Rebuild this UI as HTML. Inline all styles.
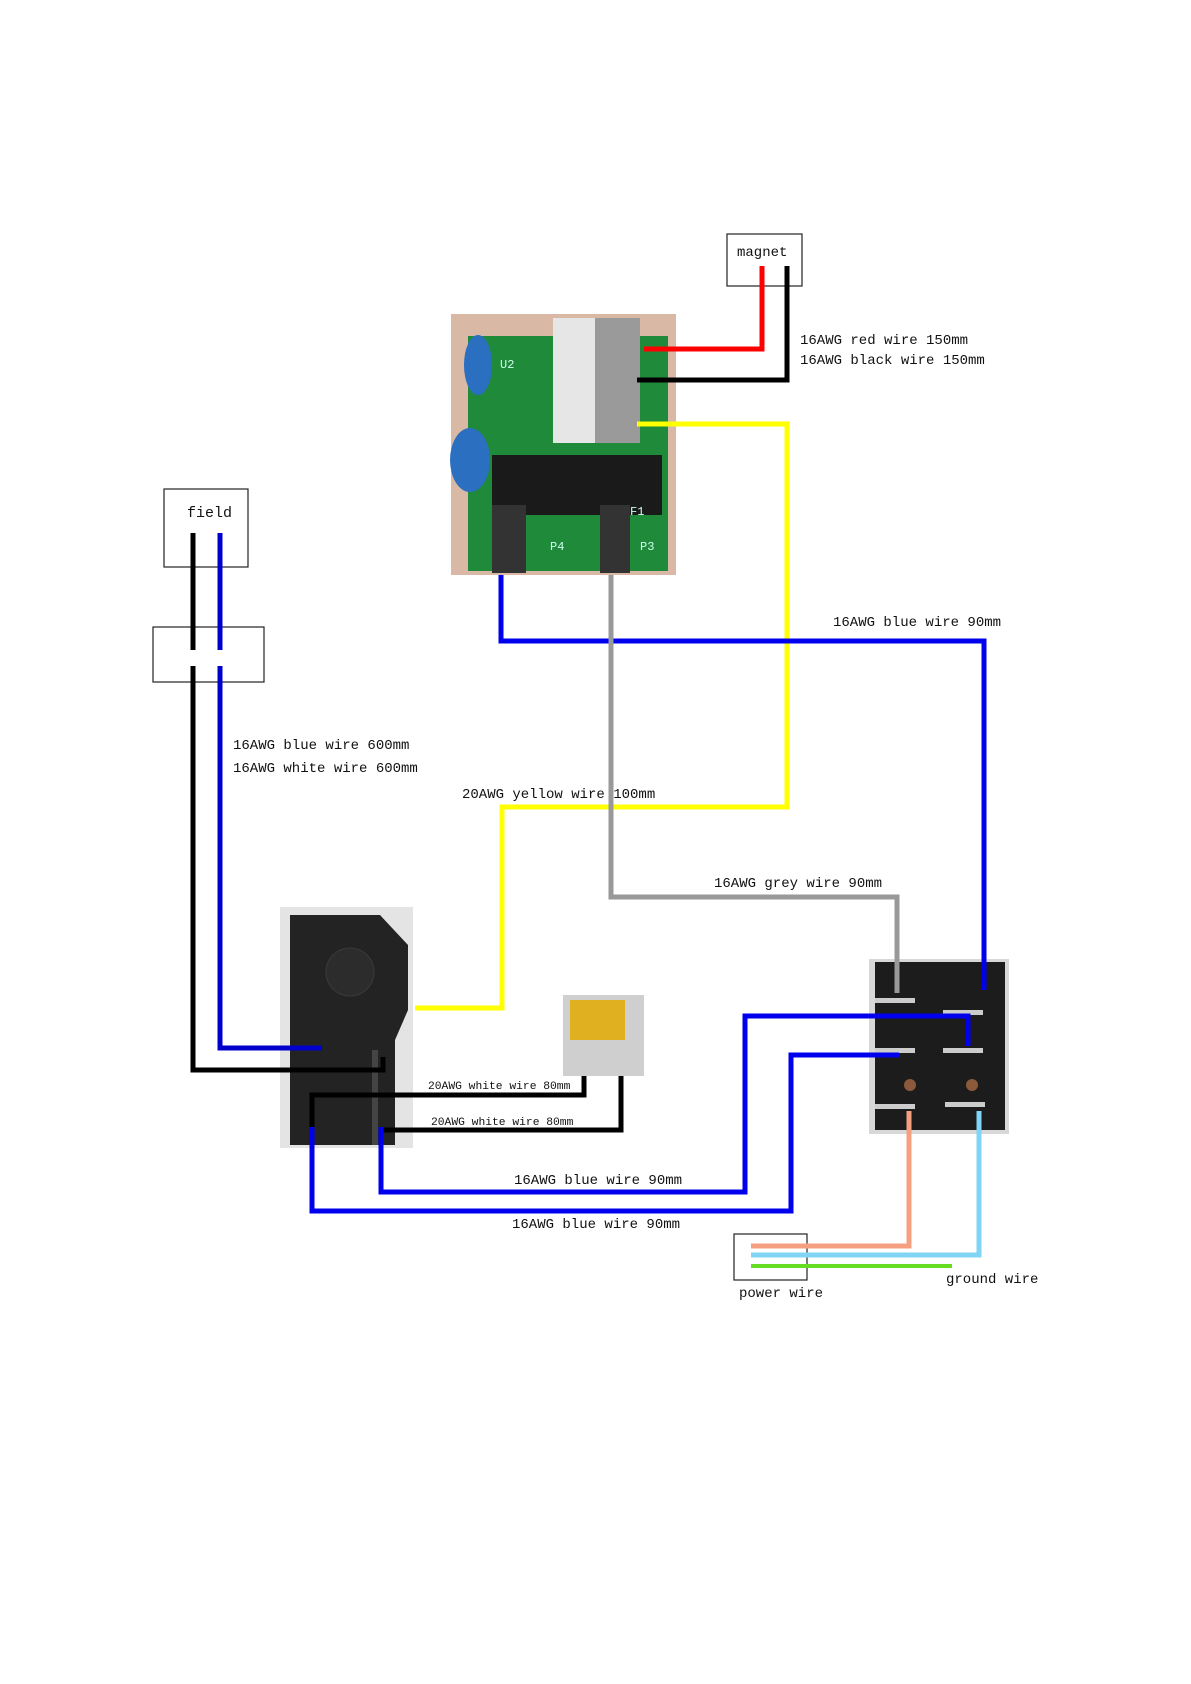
<!DOCTYPE html>
<html><head><meta charset="utf-8"><style>
html,body{margin:0;padding:0;background:#fff;}
svg{display:block;}
text{font-family:"Liberation Mono","DejaVu Sans Mono",monospace;fill:#111;}
</style></head><body>
<svg width="1191" height="1684" viewBox="0 0 1191 1684" xmlns="http://www.w3.org/2000/svg">
<rect width="1191" height="1684" fill="#fff"/>

<!-- PCB photo -->
<rect x="451" y="314" width="225" height="261" fill="#d9b9a6"/>
<rect x="468" y="336" width="200" height="235" fill="#1f8a3a"/>
<ellipse cx="478" cy="365" rx="14" ry="30" fill="#2a6fc0"/>
<ellipse cx="470" cy="460" rx="20" ry="32" fill="#2a6fc0"/>
<rect x="553" y="318" width="42" height="125" fill="#e6e6e6"/>
<rect x="595" y="318" width="45" height="125" fill="#9a9a9a"/>
<rect x="492" y="455" width="170" height="60" fill="#1a1a1a"/>
<rect x="492" y="505" width="34" height="68" fill="#333"/>
<rect x="600" y="505" width="30" height="68" fill="#333"/>
<text x="500" y="368" font-size="12" fill="#cde" style="fill:#cfe">U2</text>
<text x="630" y="515" font-size="12" style="fill:#cfe">F1</text>
<text x="550" y="550" font-size="12" style="fill:#cfe">P4</text>
<text x="640" y="550" font-size="12" style="fill:#cfe">P3</text>

<!-- main switch photo -->
<rect x="280" y="907" width="133" height="241" fill="#e4e4e4"/>
<path d="M290 915 L380 915 L408 945 L408 1010 L395 1040 L395 1145 L290 1145 Z" fill="#232323"/>
<circle cx="350" cy="972" r="24" fill="#2c2c2c" stroke="#3a3a3a"/>
<rect x="372" y="1050" width="6" height="95" fill="#444"/>

<!-- capacitor -->
<rect x="563" y="995" width="81" height="81" fill="#cfcfcf"/>
<rect x="570" y="1000" width="55" height="40" fill="#e0b020"/>

<!-- rocker switch photo -->
<rect x="869" y="959" width="140" height="175" fill="#d8d8d8"/>
<rect x="875" y="962" width="130" height="168" fill="#1c1c1c"/>
<rect x="875" y="998" width="40" height="5" fill="#ccc"/>
<rect x="943" y="1010" width="40" height="5" fill="#ccc"/>
<rect x="875" y="1048" width="40" height="5" fill="#ccc"/>
<rect x="943" y="1048" width="40" height="5" fill="#ccc"/>
<rect x="875" y="1104" width="40" height="5" fill="#ccc"/>
<rect x="945" y="1102" width="40" height="5" fill="#ccc"/>
<circle cx="910" cy="1085" r="6" fill="#8a5a3a"/>
<circle cx="972" cy="1085" r="6" fill="#8a5a3a"/>

<!-- boxes -->
<rect x="727" y="234" width="75" height="52" fill="none" stroke="#222" stroke-width="1.2"/>
<rect x="164" y="489" width="84" height="78" fill="none" stroke="#222" stroke-width="1.2"/>
<rect x="153" y="627" width="111" height="55" fill="none" stroke="#222" stroke-width="1.2"/>
<rect x="734" y="1234" width="73" height="46" fill="none" stroke="#222" stroke-width="1.2"/>

<g fill="none" stroke-width="5" stroke-linejoin="miter">
<polyline points="762,266 762,349 644,349" stroke="#ff0000"/>
<polyline points="787,266 787,380 637,380" stroke="#000"/>
<polyline points="637,424 787,424 787,807 502,807 502,1008 415,1008" stroke="#ffff00"/>
<polyline points="501,575 501,641 984,641 984,990" stroke="#0000ee"/>
<polyline points="611,575 611,897 897,897 897,993" stroke="#999"/>
<line x1="193" y1="533" x2="193" y2="650" stroke="#000"/>
<line x1="220" y1="533" x2="220" y2="650" stroke="#0000cc"/>
<polyline points="193,666 193,1070 383,1070 383,1057" stroke="#000"/>
<polyline points="220,666 220,1048 322,1048" stroke="#0000cc"/>
<polyline points="312,1127 312,1095 584,1095 584,1076" stroke="#000"/>
<polyline points="381,1127 381,1130 621,1130 621,1076" stroke="#000"/>
<polyline points="381,1127 381,1192 745,1192 745,1016 968,1016 968,1046" stroke="#0000ee"/>
<polyline points="312,1127 312,1211 791,1211 791,1055 899,1055" stroke="#0000ee"/>
<polyline points="909,1111 909,1246 751,1246" stroke="#f4a080"/>
<polyline points="979,1111 979,1255 751,1255" stroke="#80d4f4"/>
<line x1="751" y1="1266" x2="952" y2="1266" stroke="#66dd22" stroke-width="4"/>
</g>

<text x="737" y="256" font-size="14">magnet</text>
<text x="187" y="517" font-size="15">field</text>
<text x="800" y="344" font-size="14">16AWG red wire  150mm</text>
<text x="800" y="364" font-size="14">16AWG black wire  150mm</text>
<text x="833" y="626" font-size="14">16AWG blue wire 90mm</text>
<text x="233" y="749" font-size="14">16AWG blue wire  600mm</text>
<text x="233" y="772" font-size="14">16AWG white wire  600mm</text>
<text x="462" y="798" font-size="14">20AWG yellow wire 100mm</text>
<text x="714" y="887" font-size="14">16AWG grey wire 90mm</text>
<text x="428" y="1089" font-size="11.3">20AWG white wire 80mm</text>
<text x="431" y="1125" font-size="11.3">20AWG white wire 80mm</text>
<text x="514" y="1184" font-size="14">16AWG blue wire 90mm</text>
<text x="512" y="1228" font-size="14">16AWG blue wire 90mm</text>
<text x="739" y="1297" font-size="14">power wire</text>
<text x="946" y="1283" font-size="14">ground wire</text>
</svg>
</body></html>
